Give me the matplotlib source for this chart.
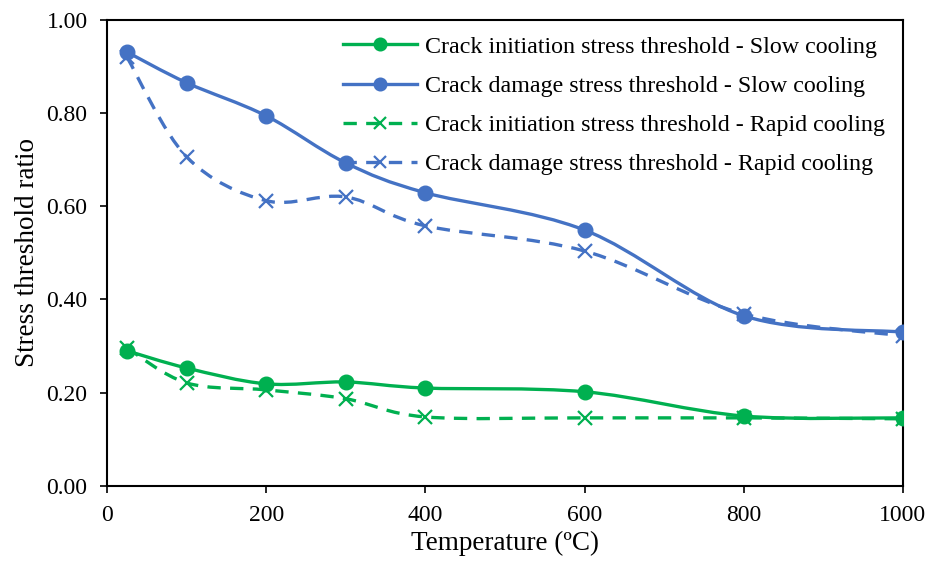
import matplotlib.pyplot as plt
import numpy as np
from matplotlib.path import Path
from matplotlib.patches import PathPatch
from matplotlib.lines import Line2D

plt.rcParams['font.family'] = ['Liberation Serif', 'DejaVu Serif']

temperature = [25, 100, 200, 300, 400, 600, 800, 1000]
ci_slow = [0.290, 0.253, 0.219, 0.223, 0.210, 0.202, 0.150, 0.146]
cd_slow = [0.931, 0.865, 0.794, 0.693, 0.629, 0.549, 0.365, 0.330]
ci_rapid = [0.296, 0.221, 0.206, 0.187, 0.148, 0.146, 0.146, 0.144]
cd_rapid = [0.920, 0.706, 0.612, 0.620, 0.558, 0.504, 0.369, 0.322]

labels = [
    "Crack initiation stress threshold - Slow cooling",
    "Crack damage stress threshold - Slow cooling",
    "Crack initiation stress threshold - Rapid cooling",
    "Crack damage stress threshold - Rapid cooling",
]

GREEN = "#00B050"
BLUE = "#4472C4"


def smooth_path(x, y):
    """Bezier path through the points, same idea as Excel's smoothed line."""
    pts = np.column_stack([x, y]).astype(float)
    ext = np.vstack([pts[0], pts, pts[-1]])
    verts = [pts[0]]
    codes = [Path.MOVETO]
    for i in range(len(pts) - 1):
        p0, p1, p2, p3 = ext[i], ext[i + 1], ext[i + 2], ext[i + 3]
        c1 = p1 + (p2 - p0) / 6
        c2 = p2 - (p3 - p1) / 6
        verts += [c1, c2, p2]
        codes += [Path.CURVE4] * 3
    return Path(verts, codes)


dashed = (0, (4, 2.8))
series = [
    (ci_slow, GREEN, "-", "o"),
    (cd_slow, BLUE, "-", "o"),
    (ci_rapid, GREEN, dashed, "x"),
    (cd_rapid, BLUE, dashed, "x"),
]

fig, ax = plt.subplots(figsize=(9.26, 5.67), dpi=100)
fig.subplots_adjust(left=0.1156, right=0.975, bottom=0.143, top=0.965)

handles = []
for (vals, col, ls, mk), lab in zip(series, labels):
    patch = PathPatch(smooth_path(temperature, vals), fill=False, edgecolor=col,
                      linewidth=2.4, linestyle=ls, zorder=2)
    ax.add_patch(patch)
    if mk == "o":
        ax.plot(temperature, vals, linestyle="none", marker="o", markersize=10.5,
                color=col, zorder=3)
    else:
        ax.plot(temperature, vals, linestyle="none", marker="x", markersize=9.5,
                markeredgewidth=1.6, color=col, zorder=3)
    handles.append(Line2D([], [], color=col, linestyle=ls, linewidth=2.4, marker=mk,
                          markersize=8.5, markeredgewidth=1.6))

ax.set_xlim(0, 1000)
ax.set_ylim(0, 1.0)
ax.set_xticks(np.arange(0, 1001, 200))
ax.set_yticks(np.arange(0, 1.01, 0.2))
ax.set_yticklabels([f"{v:.2f}" for v in np.arange(0, 1.01, 0.2)])
ax.tick_params(direction="out", length=5, width=1.2, labelsize=17, pad=9)
for sp in ax.spines.values():
    sp.set_linewidth(1.5)

ax.set_xlabel("Temperature (ºC)", fontsize=19.5, labelpad=3)
ax.set_ylabel("Stress threshold ratio", fontsize=19.5, labelpad=5)

ax.legend(handles, labels, loc="upper left", bbox_to_anchor=(343 / 926, 1 - 36 / 567),
          bbox_transform=fig.transFigure, frameon=False, fontsize=17.3,
          handlelength=3.1, handletextpad=0.3, labelspacing=0.72, borderaxespad=0,
          borderpad=0)

fig.savefig("out.png", dpi=100)
